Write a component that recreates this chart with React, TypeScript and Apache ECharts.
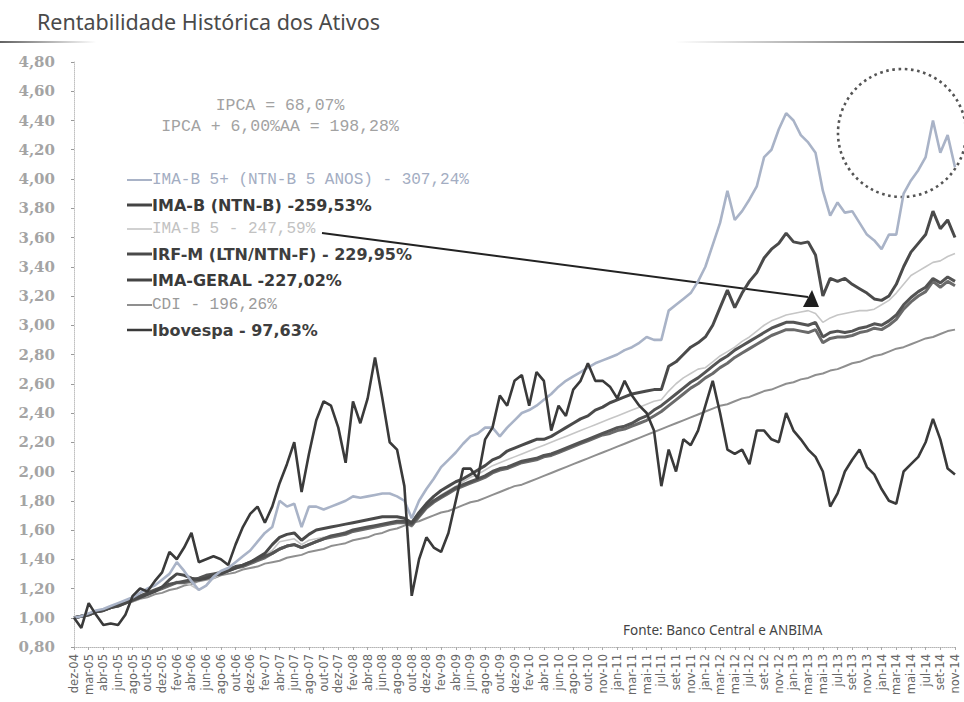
import React, { useEffect, useRef } from 'react';
import * as echarts from 'echarts';

const xLabels = [
  'dez-04', 'mar-05', 'abr-05', 'jun-05', 'ago-05', 'out-05', 'dez-05', 'fev-06', 'abr-06', 'jun-06',
  'ago-06', 'out-06', 'dez-06', 'fev-07', 'abr-07', 'jun-07', 'ago-07', 'out-07', 'dez-07', 'fev-08',
  'abr-08', 'jun-08', 'ago-08', 'out-08', 'dez-08', 'fev-09', 'abr-09', 'jun-09', 'ago-09', 'out-09',
  'dez-09', 'fev-10', 'abr-10', 'jun-10', 'ago-10', 'out-10', 'nov-10', 'jan-11', 'mar-11', 'mai-11',
  'jul-11', 'set-11', 'nov-11', 'jan-12', 'mar-12', 'mai-12', 'jul-12', 'set-12', 'nov-12', 'jan-13',
  'mar-13', 'mai-13', 'jul-13', 'set-13', 'nov-13', 'jan-14', 'mar-14', 'mai-14', 'jul-14', 'set-14',
  'nov-14',
];

const yTicks = { min: 0.8, max: 4.8, step: 0.2 };

// values sampled every half label step (about monthly)
const ibovespa = [
  1.00, 0.93, 1.10, 1.02, 0.95, 0.96, 0.95, 1.02, 1.15, 1.20,
  1.18, 1.25, 1.31, 1.45, 1.40, 1.48, 1.58, 1.38, 1.40, 1.42,
  1.40, 1.36, 1.50, 1.62, 1.71, 1.76, 1.65, 1.76, 1.92, 2.05,
  2.20, 1.86, 2.12, 2.35, 2.48, 2.45, 2.30, 2.06, 2.48, 2.33,
  2.50, 2.78, 2.50, 2.20, 2.15, 1.90, 1.15, 1.40, 1.55, 1.48,
  1.45, 1.58, 1.80, 2.02, 2.02, 1.95, 2.22, 2.30, 2.52, 2.45,
  2.62, 2.66, 2.45, 2.68, 2.62, 2.28, 2.45, 2.38, 2.56, 2.62,
  2.74, 2.62, 2.62, 2.58, 2.50, 2.62, 2.52, 2.45, 2.40, 2.28,
  1.90, 2.15, 2.00, 2.22, 2.18, 2.28, 2.45, 2.62, 2.40, 2.15,
  2.12, 2.15, 2.05, 2.28, 2.28, 2.22, 2.20, 2.40, 2.28, 2.22,
  2.15, 2.10, 2.00, 1.76, 1.85, 2.00, 2.08, 2.15, 2.03, 1.98,
  1.88, 1.80, 1.78, 2.00, 2.05, 2.10, 2.20, 2.36, 2.22, 2.02,
  1.98,
];

const imaB5Plus = [
  1.00, 1.01, 1.03, 1.05, 1.06, 1.08, 1.10, 1.12, 1.14, 1.17,
  1.20, 1.22, 1.26, 1.30, 1.38, 1.32, 1.25, 1.19, 1.22, 1.28,
  1.32, 1.34, 1.38, 1.42, 1.46, 1.52, 1.58, 1.62, 1.80, 1.76,
  1.78, 1.62, 1.76, 1.76, 1.74, 1.76, 1.78, 1.80, 1.83, 1.82,
  1.83, 1.84, 1.85, 1.85, 1.83, 1.80, 1.68, 1.80, 1.88, 1.95,
  2.03, 2.08, 2.13, 2.19, 2.24, 2.26, 2.30, 2.30, 2.24, 2.30,
  2.35, 2.40, 2.42, 2.45, 2.49, 2.53, 2.58, 2.62, 2.65, 2.68,
  2.71, 2.74, 2.76, 2.78, 2.80, 2.83, 2.85, 2.88, 2.92, 2.90,
  2.90, 3.10, 3.14, 3.18, 3.22, 3.30, 3.40, 3.55, 3.70, 3.92,
  3.72, 3.78, 3.86, 3.95, 4.15, 4.20, 4.34, 4.45, 4.40, 4.30,
  4.25, 4.18, 3.92, 3.75, 3.84, 3.77, 3.78, 3.70, 3.62, 3.58,
  3.52, 3.62, 3.62, 3.90, 3.99, 4.06, 4.15, 4.40, 4.18, 4.30,
  4.08,
];

const imaB = [
  1.00, 1.01, 1.02, 1.04, 1.05, 1.07, 1.08, 1.10, 1.12, 1.14,
  1.16, 1.18, 1.21, 1.26, 1.30, 1.29, 1.27, 1.26, 1.27, 1.29,
  1.30, 1.32, 1.34, 1.36, 1.38, 1.41, 1.44, 1.50, 1.55, 1.57,
  1.58, 1.53, 1.57, 1.60, 1.61, 1.62, 1.63, 1.64, 1.65, 1.66,
  1.67, 1.68, 1.69, 1.69, 1.69, 1.68, 1.65, 1.72, 1.78, 1.83,
  1.87, 1.90, 1.93, 1.95, 1.98, 2.01, 2.04, 2.08, 2.10, 2.14,
  2.16, 2.18, 2.20, 2.22, 2.22, 2.24, 2.27, 2.30, 2.33, 2.36,
  2.38, 2.42, 2.44, 2.47, 2.49, 2.51, 2.53, 2.54, 2.55, 2.56,
  2.56, 2.72, 2.75, 2.80, 2.85, 2.88, 2.92, 3.00, 3.12, 3.24,
  3.12, 3.22, 3.30, 3.36, 3.46, 3.52, 3.56, 3.63, 3.57, 3.56,
  3.57, 3.48, 3.20, 3.32, 3.30, 3.32, 3.28, 3.25, 3.22, 3.18,
  3.17, 3.20, 3.28, 3.40, 3.50, 3.56, 3.62, 3.78, 3.66, 3.72,
  3.60,
];

const imaB5 = [
  1.00, 1.01, 1.02, 1.04, 1.05, 1.07, 1.08, 1.10, 1.12, 1.14,
  1.16, 1.18, 1.20, 1.22, 1.25, 1.24, 1.22, 1.19, 1.22, 1.27,
  1.30, 1.32, 1.34, 1.36, 1.38, 1.40, 1.43, 1.46, 1.52, 1.53,
  1.54, 1.50, 1.53, 1.54, 1.55, 1.56, 1.57, 1.59, 1.60, 1.61,
  1.62, 1.63, 1.64, 1.65, 1.66, 1.66, 1.62, 1.70, 1.76, 1.80,
  1.84, 1.87, 1.90, 1.93, 1.96, 1.98, 2.01, 2.04, 2.06, 2.08,
  2.10, 2.12, 2.14, 2.16, 2.18, 2.20, 2.22, 2.24, 2.26, 2.28,
  2.30, 2.32, 2.34, 2.36, 2.38, 2.40, 2.42, 2.44, 2.46, 2.48,
  2.49, 2.55, 2.60, 2.64, 2.67, 2.70, 2.71, 2.75, 2.79, 2.82,
  2.85, 2.89, 2.92, 2.96, 3.00, 3.03, 3.05, 3.07, 3.08, 3.09,
  3.10, 3.08, 3.02, 3.05, 3.07, 3.08, 3.09, 3.10, 3.10, 3.11,
  3.14, 3.17, 3.22, 3.28, 3.34, 3.37, 3.40, 3.43, 3.44, 3.47,
  3.49,
];

const irfM = [
  1.00, 1.01, 1.02, 1.04, 1.05, 1.07, 1.09, 1.11, 1.13, 1.15,
  1.17, 1.19, 1.21, 1.23, 1.24, 1.25, 1.26, 1.27, 1.29, 1.30,
  1.31, 1.33, 1.35, 1.36, 1.38, 1.40, 1.42, 1.44, 1.47, 1.49,
  1.50, 1.48, 1.50, 1.52, 1.54, 1.56, 1.57, 1.58, 1.60, 1.61,
  1.62, 1.63, 1.64, 1.65, 1.66, 1.66, 1.64, 1.70, 1.76, 1.80,
  1.83, 1.86, 1.89, 1.91, 1.93, 1.95, 1.97, 2.00, 2.02, 2.03,
  2.05, 2.07, 2.08, 2.09, 2.11, 2.12, 2.14, 2.16, 2.18, 2.20,
  2.22, 2.24, 2.26, 2.28, 2.30, 2.31, 2.33, 2.36, 2.38, 2.42,
  2.45, 2.49, 2.53, 2.57, 2.61, 2.64, 2.68, 2.72, 2.76, 2.79,
  2.83, 2.86, 2.89, 2.92, 2.95, 2.98, 3.00, 3.02, 3.02, 3.01,
  3.00, 3.02, 2.92, 2.95, 2.96, 2.95, 2.96, 2.98, 2.99, 3.01,
  3.00, 3.03, 3.07, 3.14, 3.19, 3.23, 3.26, 3.32, 3.29, 3.33,
  3.30,
];

const imaGeral = [
  1.00, 1.01, 1.02, 1.04, 1.05, 1.07, 1.08, 1.10, 1.12, 1.14,
  1.16, 1.18, 1.20, 1.22, 1.24, 1.24, 1.25, 1.26, 1.28, 1.29,
  1.30, 1.32, 1.34, 1.35, 1.37, 1.39, 1.41, 1.44, 1.47, 1.49,
  1.50, 1.48, 1.50, 1.52, 1.54, 1.55, 1.56, 1.57, 1.59, 1.60,
  1.61, 1.62, 1.63, 1.64, 1.65, 1.65, 1.63, 1.69, 1.75, 1.79,
  1.82, 1.85, 1.88, 1.90, 1.92, 1.94, 1.96, 1.99, 2.01, 2.02,
  2.04, 2.06, 2.07, 2.08, 2.10, 2.11, 2.13, 2.15, 2.17, 2.19,
  2.21, 2.23, 2.25, 2.26, 2.28, 2.29, 2.31, 2.33, 2.35, 2.38,
  2.41, 2.45, 2.49, 2.53, 2.57, 2.60, 2.64, 2.67, 2.71, 2.74,
  2.78, 2.81, 2.84, 2.87, 2.90, 2.93, 2.95, 2.97, 2.97, 2.96,
  2.95, 2.97, 2.88, 2.91, 2.92, 2.92, 2.93, 2.95, 2.96, 2.98,
  2.97, 3.00, 3.04, 3.11, 3.16, 3.20, 3.23, 3.30, 3.26, 3.30,
  3.27,
];

const cdi = [
  1.00, 1.01, 1.03, 1.04, 1.05, 1.07, 1.08, 1.10, 1.11, 1.13,
  1.14, 1.16, 1.17, 1.19, 1.20, 1.22, 1.23, 1.25, 1.26, 1.27,
  1.29, 1.30, 1.31, 1.33, 1.34, 1.35, 1.37, 1.38, 1.39, 1.41,
  1.42, 1.43, 1.45, 1.46, 1.47, 1.49, 1.50, 1.51, 1.53, 1.54,
  1.55, 1.57, 1.58, 1.60, 1.61, 1.63, 1.65, 1.66, 1.68, 1.70,
  1.72, 1.73, 1.75, 1.77, 1.79, 1.80, 1.82, 1.84, 1.86, 1.88,
  1.90, 1.91, 1.93, 1.95, 1.97, 1.99, 2.01, 2.03, 2.05, 2.07,
  2.09, 2.11, 2.13, 2.15, 2.17, 2.19, 2.21, 2.23, 2.25, 2.27,
  2.29, 2.31, 2.33, 2.35, 2.37, 2.39, 2.41, 2.43, 2.45, 2.46,
  2.48, 2.50, 2.51, 2.53, 2.55, 2.56, 2.58, 2.60, 2.61, 2.63,
  2.64, 2.66, 2.67, 2.69, 2.70, 2.72, 2.74, 2.75, 2.77, 2.79,
  2.80, 2.82, 2.84, 2.85, 2.87, 2.89, 2.91, 2.92, 2.94, 2.96,
  2.97,
];

const legendLabels = [
  'IMA-B 5+ (NTN-B 5 ANOS) - 307,24%',
  'IMA-B (NTN-B) -259,53%',
  'IMA-B 5 - 247,59%',
  'IRF-M (LTN/NTN-F) - 229,95%',
  'IMA-GERAL -227,02%',
  'CDI - 196,26%',
  'Ibovespa - 97,63%',
];

const ipcaLines = ['IPCA = 68,07%', 'IPCA + 6,00%AA = 198,28%'];
const titleText = 'Rentabilidade Histórica dos Ativos';
const sourceText = 'Fonte: Banco Central e ANBIMA';

const MONO = '"Liberation Mono", "DejaVu Sans Mono", monospace';
const SANS = '"DejaVu Sans", Verdana, sans-serif';

export default function App() {
  const ref = useRef<HTMLDivElement>(null);

  useEffect(() => {
    document.body.style.margin = '0';
    const chart = echarts.init(ref.current as HTMLDivElement, null, { renderer: 'svg' });

    const toPts = (vals: number[]) => vals.map((v, k) => [k / 2, v]);

    const seriesDefs = [
      { name: 'CDI', data: cdi, color: '#8f8f8f', width: 2 },
      { name: 'IMA-B 5', data: imaB5, color: '#c6c6c6', width: 1.6 },
      { name: 'IMA-GERAL', data: imaGeral, color: '#6a6a6a', width: 3 },
      { name: 'IRF-M', data: irfM, color: '#545454', width: 3 },
      { name: 'IMA-B', data: imaB, color: '#4a4a4a', width: 3 },
      { name: 'IMA-B 5+', data: imaB5Plus, color: '#a9b3c7', width: 2.6 },
      { name: 'Ibovespa', data: ibovespa, color: '#3a3a3a', width: 2.6 },
    ];

    const legendStyles = [
      { color: '#a3adc2', font: `16px ${MONO}`, line: '#a9b3c7', lw: 2 },
      { color: '#3a3a3a', font: `bold 16px ${SANS}`, line: '#444', lw: 3 },
      { color: '#c2c2c2', font: `16px ${MONO}`, line: '#c6c6c6', lw: 1.6 },
      { color: '#3e3e3e', font: `bold 16px ${SANS}`, line: '#4a4a4a', lw: 3 },
      { color: '#3a3a3a', font: `bold 16px ${SANS}`, line: '#444', lw: 3 },
      { color: '#9a9a9a', font: `16px ${MONO}`, line: '#8f8f8f', lw: 2 },
      { color: '#3e3e3e', font: `bold 16px ${SANS}`, line: '#3a3a3a', lw: 2.5 },
    ];
    const legendY = [180, 205, 229, 254, 280, 305, 330];

    const graphic: any[] = [
      {
        type: 'text', x: 37, y: 21,
        style: { text: titleText, font: '21.5px "Noto Sans", sans-serif', fill: '#4a4a4a', textVerticalAlign: 'middle' },
      },
      {
        type: 'rect', shape: { x: 0, y: 41, width: 964, height: 2 },
        style: {
          fill: new echarts.graphic.LinearGradient(0, 0, 1, 0, [
            { offset: 0, color: 'rgba(70,70,70,0.85)' },
            { offset: 0.1, color: 'rgba(70,70,70,0)' },
            { offset: 0.7, color: 'rgba(70,70,70,0)' },
            { offset: 1, color: 'rgba(60,60,60,0.95)' },
          ]),
        },
      },
      ...ipcaLines.map((t, i) => ({
        type: 'text', x: 280, y: 105 + i * 21,
        style: { text: t, font: `16.5px ${MONO}`, fill: '#a2a2a2', textAlign: 'center', textVerticalAlign: 'middle' },
      })),
      ...legendLabels.flatMap((t, i) => [
        {
          type: 'line', shape: { x1: 127, y1: legendY[i], x2: 152, y2: legendY[i] },
          style: { stroke: legendStyles[i].line, lineWidth: legendStyles[i].lw },
        },
        {
          type: 'text', x: 152, y: legendY[i],
          style: { text: t, font: legendStyles[i].font, fill: legendStyles[i].color, textVerticalAlign: 'middle' },
        },
      ]),
      {
        type: 'line', shape: { x1: 322, y1: 233, x2: 808, y2: 297 },
        style: { stroke: '#222', lineWidth: 2 },
      },
      {
        type: 'polygon', shape: { points: [[803, 307], [819, 307], [812, 290]] },
        style: { fill: '#1e1e1e' },
      },
      {
        type: 'circle', shape: { cx: 902, cy: 133, r: 64 },
        style: { fill: 'none', stroke: '#555', lineWidth: 2.6, lineDash: [2.6, 3.6] },
      },
      {
        type: 'text', x: 623, y: 630,
        style: { text: sourceText, font: '13.5px "Noto Sans", sans-serif', fill: '#444', textVerticalAlign: 'middle' },
      },
    ];

    chart.setOption({
      animation: false,
      backgroundColor: '#ffffff',
      grid: { left: 74, right: 9, top: 62, bottom: 55, containLabel: false },
      xAxis: {
        type: 'value',
        min: 0,
        max: xLabels.length - 1,
        interval: 1,
        axisLine: { show: true, lineStyle: { color: '#b5b5b5', type: 'dotted', width: 1 } },
        axisTick: { show: true, length: 3, lineStyle: { color: '#aaa' } },
        splitLine: { show: false },
        axisLabel: {
          rotate: 90,
          margin: 7,
          fontSize: 11.5,
          fontFamily: 'DejaVu Sans',
          color: '#666',
          formatter: (v: number) => xLabels[Math.round(v)] ?? '',
        },
      },
      yAxis: {
        type: 'value',
        min: yTicks.min,
        max: yTicks.max,
        interval: yTicks.step,
        axisLine: { show: true, lineStyle: { color: '#c0c0c0', type: 'dotted', width: 1 } },
        axisTick: { show: true, length: 3, inside: false, lineStyle: { color: '#999' } },
        splitLine: { show: false },
        axisLabel: {
          margin: 19,
          fontSize: 15,
          fontWeight: 'bold',
          fontFamily: 'DejaVu Serif',
          color: '#a4a4a4',
          formatter: (v: number) => v.toFixed(2).replace('.', ','),
        },
      },
      series: seriesDefs.map((s) => ({
        type: 'line',
        name: s.name,
        data: toPts(s.data),
        showSymbol: false,
        symbol: 'none',
        lineStyle: { color: s.color, width: s.width },
        itemStyle: { color: s.color },
      })),
      graphic,
    });

    return () => chart.dispose();
  }, []);

  return <div ref={ref} style={{ width: 964, height: 702 }} />;
}
